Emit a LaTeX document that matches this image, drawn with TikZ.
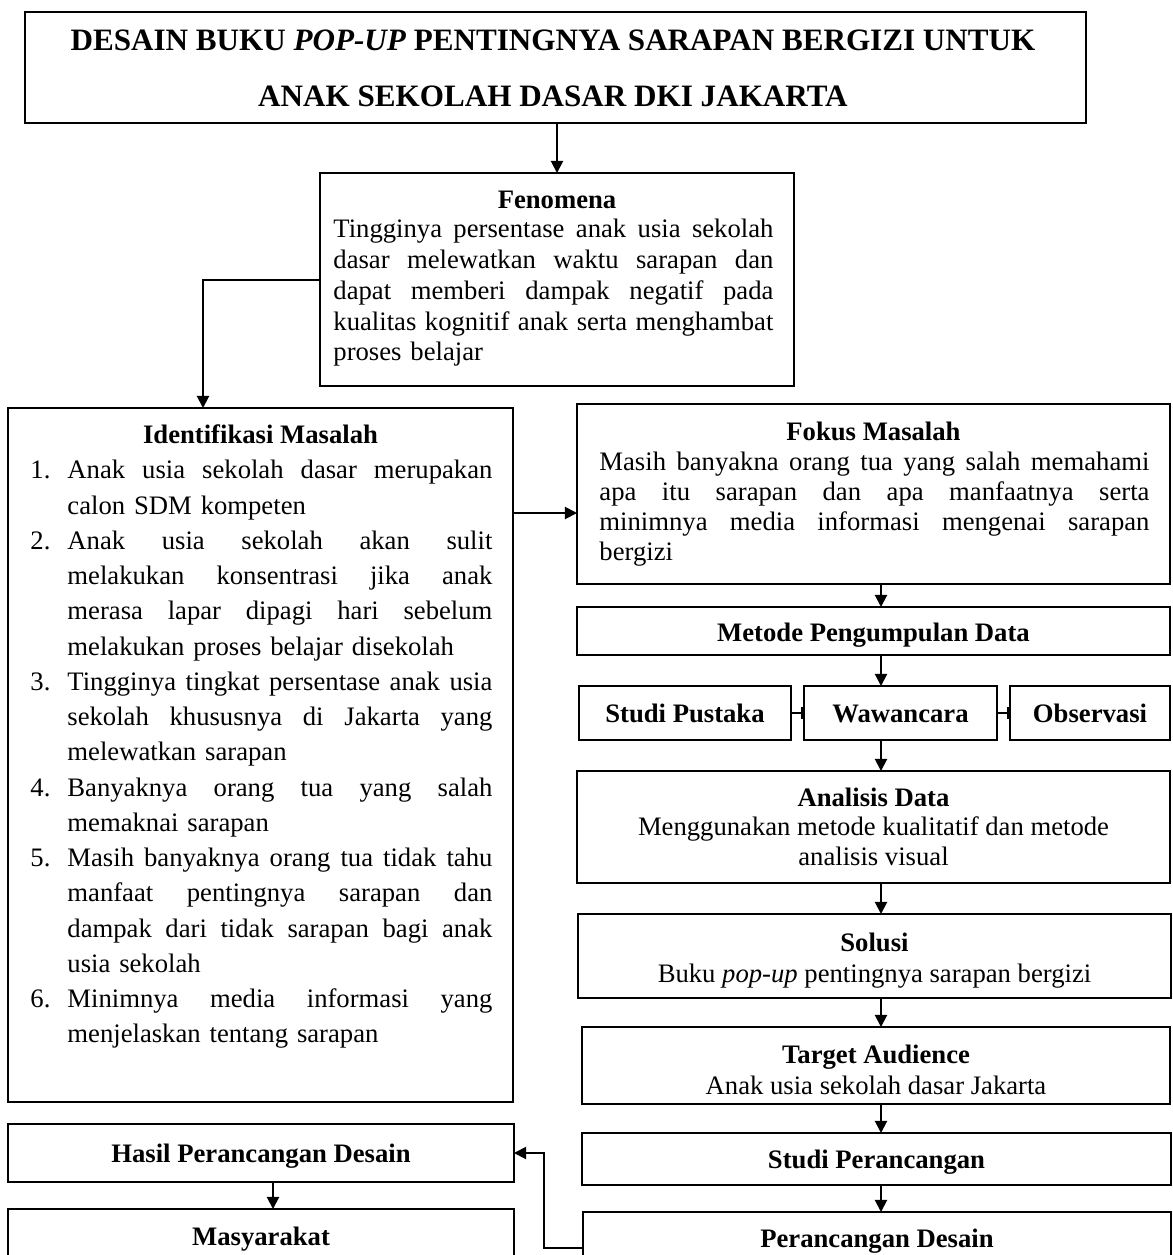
\documentclass[tikz,border=0pt]{standalone}
\usepackage{fontspec}
\setmainfont{Liberation Serif}
\usetikzlibrary{arrows.meta,calc}
\newlength\fw \setlength\fw{198pt}
\newlength\kw \setlength\kw{247.5pt}
\newlength\nw \setlength\nw{16.65pt}
\newlength\iw \setlength\iw{191.25pt}
\newlength\tw \setlength\tw{\nw}\addtolength\tw{\iw}
\newcommand\jl[2]{\leavevmode\hbox to #1{\spaceskip=\fontdimen2\font plus 1fil\relax\xspaceskip=\spaceskip #2}}
\newcommand\ilA[2]{\leavevmode\makebox[\nw][l]{#1}\jl{\iw}{#2}}
\newcommand\ilB[1]{\leavevmode\hspace*{\nw}\jl{\iw}{#1}}
\newcommand\ilC[1]{\leavevmode\hspace*{\nw}#1}
\newcommand\bx[5]{\node[boxst, minimum width={(#4-#2)*0.45pt}, minimum height={(#5-#3)*0.45pt}] (#1) at ({(#2+#4)/2},{(#3+#5)/2}) {};}
\begin{document}
\begin{tikzpicture}[x=0.45pt,y=-0.45pt,
  boxst/.style={draw,rectangle,line width=0.9pt,inner sep=0pt,outer sep=0pt},
  arr/.style={line width=0.9pt,-{Triangle[length=5.5pt,width=5.5pt]}},
  ln/.style={line width=0.9pt},
  hd/.style={anchor=base,inner sep=0pt,font=\fontsize{12}{13.84}\selectfont\bfseries},
  tx/.style={anchor=base,inner sep=0pt,font=\fontsize{12}{13.84}\selectfont},
  partx/.style={anchor=north west,inner sep=0pt,align=left,font=\fontsize{12}{13.84}\selectfont},
  ttl/.style={anchor=base,inner sep=0pt,font=\fontsize{14}{16}\selectfont\bfseries}]
\useasboundingbox (0,0) rectangle (1173,1255);
\fill[white] (0,0) rectangle (1173,1255);
\clip (0,0) rectangle (1173,1255);

% boxes
\bx{title}{25}{12}{1086}{123}
\bx{fen}{320}{173}{794}{386}
\bx{ident}{8}{408}{513}{1102}
\bx{fokus}{577}{404}{1170}{584}
\bx{metode}{577}{607}{1170}{655}
\bx{sp}{579}{686}{791}{740}
\bx{ww}{804}{686}{997}{740}
\bx{obs}{1010}{686}{1170}{740}
\bx{ana}{577}{771}{1170}{883}
\bx{sol}{578}{914}{1171}{998}
\bx{tgt}{582}{1027}{1170}{1104}
\bx{sper}{582}{1133}{1171}{1185}
\bx{pdes}{583}{1212}{1171}{1284}
\bx{hasil}{8}{1124}{514}{1182}
\bx{masy}{8}{1209}{514}{1266}

% title
\node[ttl] (t1) at (553,50) {DESAIN BUKU \textit{POP-UP} PENTINGNYA SARAPAN BERGIZI UNTUK};
\node[ttl] (t2) at (553,106) {ANAK SEKOLAH DASAR DKI JAKARTA};

% fenomena
\node[hd] (fenh) at (557,208) {Fenomena};
\node[partx,text width=\fw,font=\fontsize{12}{13.84}\selectfont] (fent) at (333,219) {%
\jl{\fw}{Tingginya persentase anak usia sekolah}\\
\jl{\fw}{dasar melewatkan waktu sarapan dan}\\
\jl{\fw}{dapat memberi dampak negatif pada}\\
\jl{\fw}{kualitas kognitif anak serta menghambat}\\
proses belajar};

% identifikasi
\node[hd] (identh) at (260.5,443) {Identifikasi Masalah};
\node[partx,text width=\tw,font=\fontsize{12}{15.86}\selectfont] (identt) at (30,460) {%
\ilA{1.}{Anak usia sekolah dasar merupakan}\\
\ilC{calon SDM kompeten}\\
\ilA{2.}{Anak usia sekolah akan sulit}\\
\ilB{melakukan konsentrasi jika anak}\\
\ilB{merasa lapar dipagi hari sebelum}\\
\ilC{melakukan proses belajar disekolah}\\
\ilA{3.}{Tingginya tingkat persentase anak usia}\\
\ilB{sekolah khususnya di Jakarta yang}\\
\ilC{melewatkan sarapan}\\
\ilA{4.}{Banyaknya orang tua yang salah}\\
\ilC{memaknai sarapan}\\
\ilA{5.}{Masih banyaknya orang tua tidak tahu}\\
\ilB{manfaat pentingnya sarapan dan}\\
\ilB{dampak dari tidak sarapan bagi anak}\\
\ilC{usia sekolah}\\
\ilA{6.}{Minimnya media informasi yang}\\
\ilC{menjelaskan tentang sarapan}};

% fokus
\node[hd] (fokh) at (873.5,440) {Fokus Masalah};
\node[partx,text width=\kw,font=\fontsize{12}{13.5}\selectfont] (fokt) at (599,452) {%
\jl{\kw}{Masih banyakna orang tua yang salah memahami}\\
\jl{\kw}{apa itu sarapan dan apa manfaatnya serta}\\
\jl{\kw}{minimnya media informasi mengenai sarapan}\\
bergizi};

% single line boxes
\node[hd] (metodet) at (873.5,641) {Metode Pengumpulan Data};
\node[hd] (spt) at (685,722) {Studi Pustaka};
\node[hd] (wwt) at (900.5,722) {Wawancara};
\node[hd] (obst) at (1090,722) {Observasi};

\node[hd] (anah) at (873.5,806) {Analisis Data};
\node[tx] (anat1) at (873.5,835) {Menggunakan metode kualitatif dan metode};
\node[tx] (anat2) at (873.5,865) {analisis visual};

\node[hd] (solh) at (874.5,951) {Solusi};
\node[tx] (solt) at (874.5,982) {Buku \textit{pop-up} pentingnya sarapan bergizi};

\node[hd] (tgth) at (876,1063) {Target Audience};
\node[tx] (tgtt) at (876,1094) {Anak usia sekolah dasar Jakarta};

\node[hd] (spert) at (876.5,1168) {Studi Perancangan};
\node[hd] (pdest) at (877,1247) {Perancangan Desain};
\node[hd] (hasilt) at (261,1162) {Hasil Perancangan Desain};
\node[hd] (masyt) at (261,1245) {Masyarakat};

% connectors
\coordinate (cx) at (881,0);
\coordinate (hx) at (273,0);
\coordinate (fk) at ($(fokus.north west)+(0,109)$);
\draw[arr] (fen.north |- title.south) -- (fen.north);
\draw[arr] (fen.west) -| ($(ident.north west)+(195,0)$);
\draw[arr] (ident.east |- fk) -- (fk);
\draw[arr] (fokus.south -| cx) -- (metode.north -| cx);
\draw[arr] (metode.south -| cx) -- (ww.north -| cx);
\draw[arr] (ww.south -| cx) -- (ana.north -| cx);
\draw[arr] (ana.south -| cx) -- (sol.north -| cx);
\draw[arr] (sol.south -| cx) -- (tgt.north -| cx);
\draw[arr] (tgt.south -| cx) -- (sper.north -| cx);
\draw[arr] (sper.south -| cx) -- (pdes.north -| cx);
\draw[arr] (pdes.west) -- ++(-39,0) |- (hasil.east);
\draw[arr] (hasil.south -| hx) -- (masy.north -| hx);
\draw[ln] (sp.east) -- ($(ww.west)+(-2.5,0)$) ++(0,-6) -- ++(0,12);
\draw[ln] (ww.east) -- ($(obs.west)+(-2.5,0)$) ++(0,-6) -- ++(0,12);
\end{tikzpicture}
\end{document}
